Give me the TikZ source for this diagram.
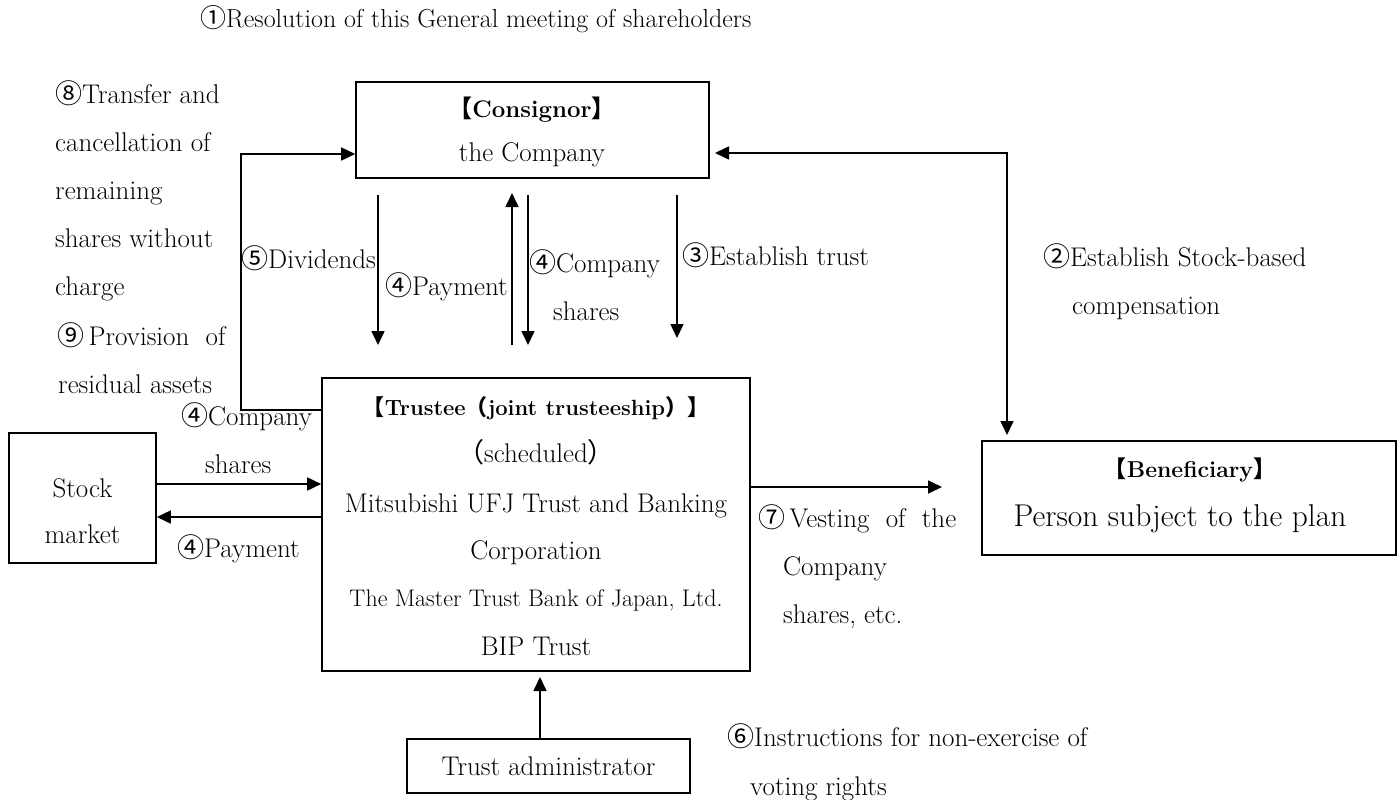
\documentclass[tikz,border=0pt]{standalone}
\usepackage{fontspec}
\newfontfamily\cjk{Noto Sans CJK JP}
\usetikzlibrary{arrows.meta}
\newcommand\cj[1]{{\cjk #1}}
\begin{document}
\begin{tikzpicture}[x=1pt,y=-1pt,
  box/.style={draw, line width=1.6pt, inner sep=0pt},
  arr/.style={line width=1.6pt, -{Triangle[length=14pt,width=13pt]}},
  darr/.style={line width=1.6pt, {Triangle[length=14pt,width=13pt]}-{Triangle[length=14pt,width=13pt]}},
  lb/.style={anchor=base west, inner sep=0pt, font=\fontsize{27}{32}\selectfont},
  lbc/.style={anchor=base, inner sep=0pt, font=\fontsize{27}{32}\selectfont},
]
\useasboundingbox (0,0) rectangle (1397,800);
% boxes
\node[box, minimum width=353pt, minimum height=96pt] (cons) at (532.5,130) {};
\node[box, minimum width=428pt, minimum height=293pt] (trus) at (536,524.5) {};
\node[box, minimum width=147pt, minimum height=130pt] (stock) at (82.5,498) {};
\node[box, minimum width=414pt, minimum height=114pt] (benef) at (1189,498) {};
\node[box, minimum width=283pt, minimum height=54pt] (admin) at (548.5,766) {};
% free coordinates
\coordinate (c8a) at (241,410);
\coordinate (c8b) at (241,154);
\coordinate (d5s) at (378,195); \coordinate (d5e) at (378,345);
\coordinate (p4s) at (512,345); \coordinate (p4e) at (512,193);
\coordinate (s4s) at (528,195); \coordinate (s4e) at (528,345);
\coordinate (e3s) at (677,195); \coordinate (e3e) at (677,338);
\coordinate (e2s) at (715,153); \coordinate (e2c) at (1007,153); \coordinate (e2e) at (1007,435);
\coordinate (v7e) at (942,487);
\coordinate (a6e) at (540,677);
% connectors
\draw[arr] (trus.west |- c8a) -- (c8a) -- (c8b) -- (cons.west |- c8b);
\draw[arr] (d5s) -- (d5e);
\draw[arr] (p4s) -- (p4e);
\draw[arr] (s4s) -- (s4e);
\draw[arr] (e3s) -- (e3e);
\draw[darr] (e2s) -- (e2c) -- (e2e);
\draw[arr] (stock.east |- 0,484) -- (trus.west |- 0,484);
\draw[arr] (trus.west |- 0,517) -- (stock.east |- 0,517);
\draw[arr] (trus.east |- v7e) -- (v7e);
\draw[arr] (admin.north -| a6e) -- (a6e);
% top label
\node[lb, font=\fontsize{26}{32}\selectfont] (t1) at (200,28) {\cj{①}Resolution of this General meeting of shareholders};
% left labels
\node[lb] (l8a) at (55,103) {\cj{⑧}Transfer and};
\node[lb] (l8b) at (55,151) {cancellation of};
\node[lb] (l8c) at (55,199) {remaining};
\node[lb] (l8d) at (55,247) {shares without};
\node[lb] (l8e) at (55,295) {charge};
\node[lb] (l9a) at (57,345) {\cj{⑨}\,Provision\ \ of};
\node[lb] (l9b) at (58,393) {residual assets};
% middle labels
\node[lb] (l5) at (241,268) {\cj{⑤}Dividends};
\node[lb] (l4p) at (385,295) {\cj{④}Payment};
\node[lb] (l4c) at (529,272) {\cj{④}Company};
\node[lb] (l4s) at (553,320) {shares};
\node[lb] (l3) at (682,265) {\cj{③}Establish trust};
\node[lb] (l2a) at (1043,266) {\cj{②}Establish Stock-based};
\node[lb] (l2b) at (1072,314) {compensation};
% consignor
\node[lbc, font=\fontsize{24}{30}\selectfont] (ct1) at (532,117) {\bfseries\cj{【}Consignor\cj{】}};
\node[lbc] (ct2) at (532,161) {the Company};
% trustee
\node[lbc, font=\fontsize{22}{30}\selectfont] (tt1) at (536,415) {\bfseries\cj{【}Trustee\cj{（}joint trusteeship\cj{）】}};
\node[lbc] (tt2) at (536,462) {\cj{（}scheduled\cj{）}};
\node[lbc] (tt3) at (536,512) {Mitsubishi UFJ Trust and Banking};
\node[lbc] (tt4) at (536,559) {Corporation};
\node[lbc, font=\fontsize{24}{30}\selectfont] (tt5) at (536,606) {The Master Trust Bank of Japan, Ltd.};
\node[lbc] (tt6) at (536,655) {BIP Trust};
% stock market
\node[lb] (s4c) at (181,425) {\cj{④}Company};
\node[lb] (s4sh) at (205,473) {shares};
\node[lb] (s4p) at (177,557) {\cj{④}Payment};
\node[lbc] (st1) at (82.5,497) {Stock};
\node[lbc] (st2) at (82.5,543) {market};
% beneficiary
\node[lbc, font=\fontsize{23}{30}\selectfont] (bt1) at (1190,477) {\bfseries\cj{【}Beneficiary\cj{】}};
\node[lbc, font=\fontsize{31.5}{36}\selectfont] (bt2) at (1180,526) {Person subject to the plan};
% vesting
\node[lb] (v7a) at (758,527) {\cj{⑦}\,Vesting\ \ of\ \ the};
\node[lb] (v7b) at (783,575) {Company};
\node[lb] (v7c) at (783,623) {shares, etc.};
% instructions
\node[lb] (i6a) at (727,746) {\cj{⑥}Instructions for non-exercise of};
\node[lb] (i6b) at (750,795) {voting rights};
\node[lbc] (at) at (548.5,775) {Trust administrator};
\end{tikzpicture}
\end{document}
